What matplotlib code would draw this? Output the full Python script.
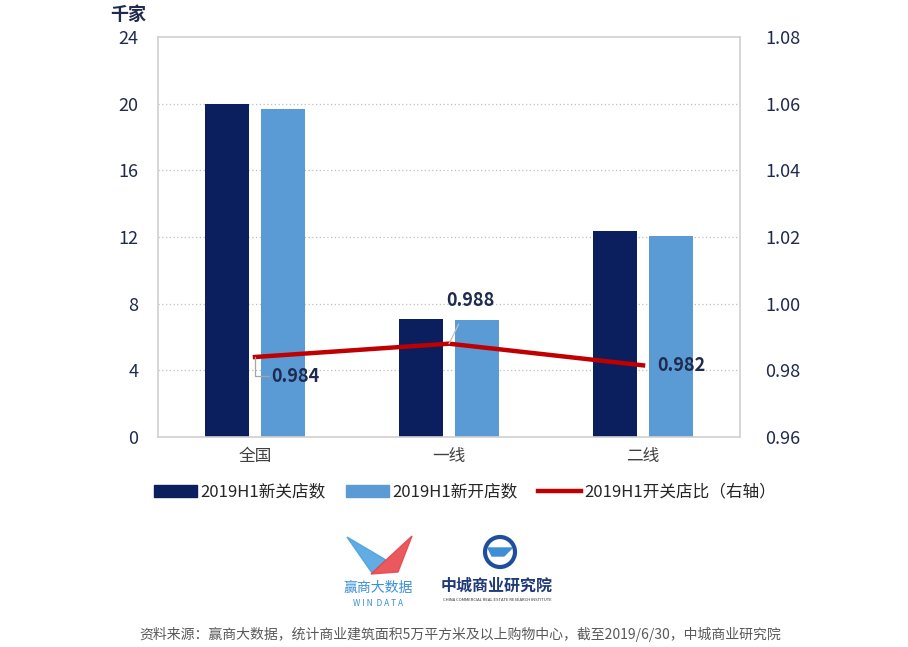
import matplotlib.pyplot as plt
from matplotlib.patches import Polygon, Circle, Rectangle
from matplotlib.lines import Line2D

plt.rcParams['font.family'] = ['Noto Sans CJK SC', 'DejaVu Sans']

# ======================
# Data
# ======================
categories = ["全国", "一线", "二线"]
closed = [20.0, 7.1, 12.35]
opened = [19.7, 7.05, 12.05]
ratio = [0.984, 0.988, 0.9815]
ratio_labels = ["0.984", "0.988", "0.982"]

left_ticks = [0, 4, 8, 12, 16, 20, 24]
right_ticks = [0.96, 0.98, 1.00, 1.02, 1.04, 1.06, 1.08]

DARK = "#0B1F5E"
LIGHT = "#5B9BD5"
RED = "#C00000"
TXT = "#1F2A4F"
GRID = "#BFBFBF"

fig = plt.figure(figsize=(9.08, 6.47), dpi=100)
ax = fig.add_axes([158 / 908, 1 - 437 / 647, 582 / 908, 400 / 647])

x = list(range(len(categories)))
bw = 0.227
off = 0.142
ax.bar([i - off for i in x], closed, width=bw, color=DARK, zorder=2)
ax.bar([i + off for i in x], opened, width=bw, color=LIGHT, zorder=2)

ax.set_xlim(-0.5, 2.5)
ax.set_ylim(0, 24)
ax.set_yticks(left_ticks)
ax.set_yticklabels([str(t) for t in left_ticks])
ax.set_xticks(x)
ax.set_xticklabels(categories)
ax.tick_params(axis="y", length=0, labelsize=13, labelcolor=TXT, pad=14)
ax.tick_params(axis="x", length=0, labelsize=12, labelcolor="#404040", pad=8)
for t in left_ticks[1:-1]:
    ax.axhline(t, color=GRID, linestyle=(0, (1, 2)), linewidth=0.9, zorder=1)
for s in ax.spines.values():
    s.set_color("#D0D0D0")
    s.set_linewidth(1.2)

# ======================
# Ratio line (right axis)
# ======================
ax2 = ax.twinx()
ax2.set_ylim(0.96, 1.08)
ax2.set_yticks(right_ticks)
ax2.set_yticklabels([f"{t:.2f}" for t in right_ticks])
ax2.tick_params(axis="y", length=0, labelsize=13, labelcolor=TXT, pad=18)
for s in ax2.spines.values():
    s.set_visible(False)

ax2.plot(x, ratio, color=RED, linewidth=3.2, zorder=4)

# data labels with leader lines (offsets in points)
ax2.annotate(ratio_labels[0], xy=(x[0], ratio[0]), xytext=(12, -14),
             textcoords="offset points", ha="left", va="center",
             fontsize=13, weight="bold", color=TXT, zorder=5,
             arrowprops=dict(arrowstyle="-", color="#A6A6A6", lw=0.9,
                             connectionstyle="angle,angleA=0,angleB=90,rad=0",
                             shrinkA=0, shrinkB=0))
ax2.annotate(ratio_labels[1], xy=(x[1], ratio[1]), xytext=(-2, 31),
             textcoords="offset points", ha="left", va="center",
             fontsize=13, weight="bold", color=TXT, zorder=5,
             arrowprops=dict(arrowstyle="-", color="#BFBFBF", lw=0.9,
                             shrinkA=9, shrinkB=0))
ax2.annotate(ratio_labels[2], xy=(x[2], ratio[2]), xytext=(10, 0),
             textcoords="offset points", ha="left", va="center",
             fontsize=13, weight="bold", color=TXT, zorder=5)

fig.text(110 / 908, 1 - 14 / 647, "千家", ha="left", va="center",
         fontsize=13, weight="bold", color=TXT)

# ======================
# Legend
# ======================
handles = [
    Rectangle((0, 0), 1, 1, color=DARK),
    Rectangle((0, 0), 1, 1, color=LIGHT),
    Line2D([0], [0], color=RED, linewidth=3.2),
]
labels = ["2019H1新关店数", "2019H1新开店数", "2019H1开关店比（右轴）"]
fig.legend(handles, labels, loc="center", bbox_to_anchor=(465 / 908, 1 - 492 / 647),
           ncol=3, frameon=False, fontsize=12, handlelength=2.6, handleheight=0.7,
           handletextpad=0.2, columnspacing=1.2, labelcolor="#262626")

# ======================
# Logos (simple drawn approximations)
# ======================
lg = fig.add_axes([0, 0, 1, 1], zorder=-1)
lg.set_xlim(0, 908)
lg.set_ylim(647, 0)
lg.axis("off")
lg.add_patch(Polygon([[347, 537], [372, 573], [386, 560]], closed=True,
                     color="#4FA3E0", alpha=0.9))
lg.add_patch(Polygon([[371, 574], [412, 536], [398, 572]], closed=True,
                     color="#E8474C", alpha=0.9))
lg.text(378, 588, "赢商大数据", ha="center", va="center", fontsize=10,
        color="#3A8FD6")
lg.text(378, 603, "W I N  D A T A", ha="center", va="center", fontsize=6,
        color="#3A8FD6")
lg.add_patch(Circle((500, 552), 15, fill=False, edgecolor="#1E4E9C", linewidth=3))
lg.add_patch(Polygon([[488, 548], [512, 548], [504, 556], [492, 556]], closed=True,
                     color="#3E8FD8"))
lg.text(497, 586, "中城商业研究院", ha="center", va="center", fontsize=11.5,
        weight="bold", color="#1E3A78", family=["Noto Sans CJK SC"])
lg.text(497, 600, "CHINA COMMERCIAL REAL ESTATE RESEARCH INSTITUTE",
        ha="center", va="center", fontsize=3, color="#333333")

fig.text(460 / 908, 1 - 634 / 647,
         "资料来源：赢商大数据，统计商业建筑面积5万平方米及以上购物中心，截至2019/6/30，中城商业研究院",
         ha="center", va="center", fontsize=10, color="#595959")

fig.savefig("out.png", dpi=100, facecolor="white")
